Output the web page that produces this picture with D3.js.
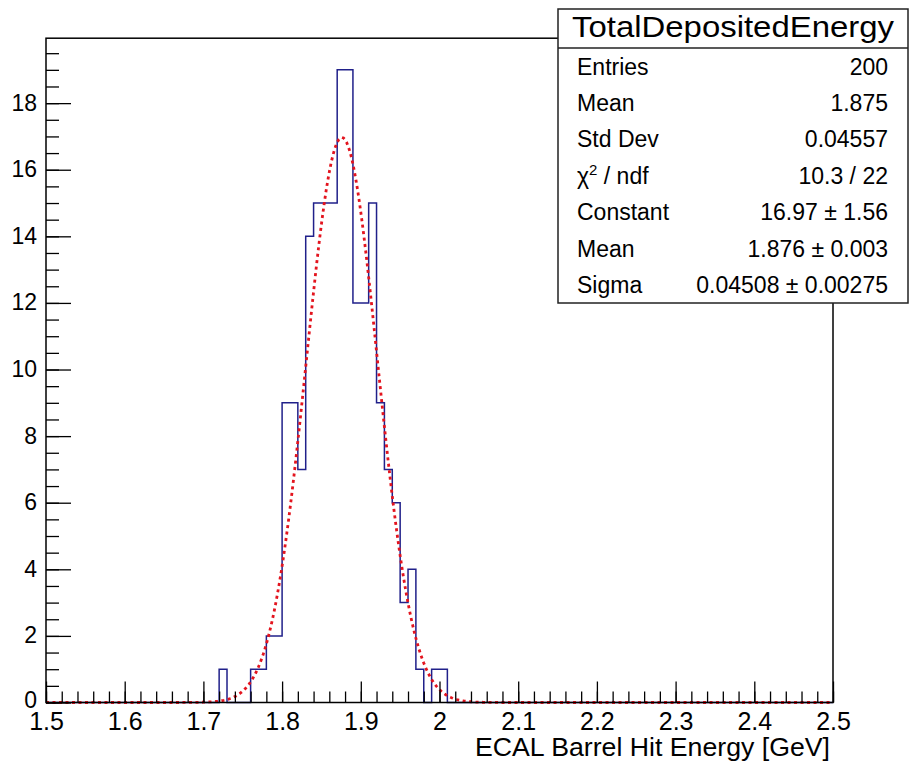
<!DOCTYPE html>
<html>
<head>
<meta charset="utf-8">
<script src="https://cdn.jsdelivr.net/npm/d3@7"></script>
<style>
  html, body { margin: 0; padding: 0; background: #fff; }
  svg { display: block; }
  text { font-family: "Liberation Sans", Arial, Helvetica, sans-serif; fill: #000; }
</style>
</head>
<body>
<svg id="chart" width="909" height="762"></svg>
<script>
// ---------------- data ----------------
// histogram: 100 bins of width 0.01 from 1.5 to 2.5; only non-empty region listed
const binWidth = 0.01;
const xRange = [1.5, 2.5];
const binStarts = [1.72, 1.73, 1.74, 1.75, 1.76, 1.77, 1.78, 1.79, 1.80, 1.81,
                   1.82, 1.83, 1.84, 1.85, 1.86, 1.87, 1.88, 1.89, 1.90, 1.91,
                   1.92, 1.93, 1.94, 1.95, 1.96, 1.97, 1.98, 1.99, 2.00];
const binCounts = [1, 0, 0, 0, 1, 1, 2, 2, 9, 9,
                   7, 14, 15, 15, 15, 19, 19, 12, 12, 15,
                   9, 7, 6, 3, 4, 1, 0, 1, 1];
// Gaussian fit parameters (from stats box)
const fitConstant = 16.97;
const fitMean = 1.876;
const fitSigma = 0.04508;
// axis ticks
const xMajorTicks = [1.5, 1.6, 1.7, 1.8, 1.9, 2.0, 2.1, 2.2, 2.3, 2.4, 2.5];
const yMajorTicks = [0, 2, 4, 6, 8, 10, 12, 14, 16, 18];
const yMax = 19.95;
// stats box
const statsTitle = "TotalDepositedEnergy";
const statLabels = ["Entries", "Mean", "Std Dev", "χ2 / ndf", "Constant", "Mean", "Sigma"];
const statValues = ["200", "1.875", "0.04557", "10.3 / 22", "16.97 ± 1.56", "1.876 ± 0.003", "0.04508 ± 0.00275"];
const xTitle = "ECAL Barrel Hit Energy [GeV]";

// ---------------- layout ----------------
const svg = d3.select("#chart");
const L = 46, R = 833, T = 38.2, B = 702.5;
const x = d3.scaleLinear().domain(xRange).range([L, R]);
const y = d3.scaleLinear().domain([0, yMax]).range([B, T]);

svg.append("rect").attr("width", 909).attr("height", 762).attr("fill", "#fff");

// full bin list
const nBins = Math.round((xRange[1] - xRange[0]) / binWidth);
const bins = d3.range(nBins).map(i => {
  const lo = +(xRange[0] + i * binWidth).toFixed(4);
  const k = binStarts.findIndex(s => Math.abs(s - lo) < 1e-6);
  return { lo, hi: lo + binWidth, c: k >= 0 ? binCounts[k] : 0 };
});

// histogram step outline
const pts = [[xRange[0], 0]];
bins.forEach(b => { pts.push([b.lo, b.c]); pts.push([b.hi, b.c]); });
pts.push([xRange[1], 0]);
svg.append("path")
  .attr("d", d3.line().x(d => x(d[0])).y(d => y(d[1]))(pts))
  .attr("fill", "none").attr("stroke", "#20208a").attr("stroke-width", 1.5);

// fit curve
const fitPts = d3.range(xRange[0], xRange[1] + 1e-9, 0.002)
  .map(v => [v, fitConstant * Math.exp(-0.5 * Math.pow((v - fitMean) / fitSigma, 2))]);
svg.append("path")
  .attr("d", d3.line().x(d => x(d[0])).y(d => y(d[1]))(fitPts))
  .attr("fill", "none").attr("stroke", "#e3141e").attr("stroke-width", 2.8)
  .attr("stroke-dasharray", "3,3.5");

// axes
const fmt = d => String(+d.toFixed(2));
const xMinor = d3.range(0, 51).map(i => +(xRange[0] + i * 0.02).toFixed(3));
const yMinor = d3.range(0, 40).map(i => i * 0.5).filter(v => v <= yMax);

const gx = svg.append("g").attr("transform", `translate(0,${B})`);
gx.call(d3.axisBottom(x).tickValues(xMinor).tickSize(-11).tickFormat(""));
gx.call(g => g.select(".domain").remove());
const gx2 = svg.append("g").attr("transform", `translate(0,${B})`);
gx2.call(d3.axisBottom(x).tickValues(xMajorTicks).tickSize(-21).tickPadding(10).tickFormat(fmt));
gx2.call(g => g.select(".domain").remove());
gx2.selectAll("text").attr("font-size", 25).attr("font-family", "Liberation Sans, Arial, sans-serif");

const gy = svg.append("g").attr("transform", `translate(${L},0)`);
gy.call(d3.axisLeft(y).tickValues(yMinor).tickSize(-13).tickFormat(""));
gy.call(g => g.select(".domain").remove());
const gy2 = svg.append("g").attr("transform", `translate(${L},0)`);
gy2.call(d3.axisLeft(y).tickValues(yMajorTicks).tickSize(-25).tickPadding(9).tickFormat(fmt));
gy2.call(g => g.select(".domain").remove());
gy2.selectAll("text").attr("font-size", 23).attr("font-family", "Liberation Sans, Arial, sans-serif")
  .attr("dy", "0.3em");
gy2.selectAll(".tick").filter(d => d === 0).select("text").attr("dy", "0.2em");

svg.selectAll(".tick line").attr("stroke", "#000").attr("stroke-width", 1.3);

// frame
svg.append("rect").attr("x", L).attr("y", T).attr("width", R - L).attr("height", B - T)
  .attr("fill", "none").attr("stroke", "#000").attr("stroke-width", 1.5);

// x title
svg.append("text").attr("x", 830).attr("y", 756).attr("text-anchor", "end")
  .attr("font-size", 25).attr("textLength", 355).attr("lengthAdjust", "spacingAndGlyphs")
  .text(xTitle);

// stats box
const bx = 558, by = 9, bw = 350, bh = 294, titleH = 39;
const sb = svg.append("g");
sb.append("rect").attr("x", bx).attr("y", by).attr("width", bw).attr("height", bh)
  .attr("fill", "#fff").attr("stroke", "#222").attr("stroke-width", 1.5);
sb.append("line").attr("x1", bx).attr("x2", bx + bw).attr("y1", by + titleH).attr("y2", by + titleH)
  .attr("stroke", "#222").attr("stroke-width", 1.5);
sb.append("text").attr("x", bx + bw / 2).attr("y", 37).attr("text-anchor", "middle")
  .attr("font-size", 30).attr("textLength", 322).attr("lengthAdjust", "spacingAndGlyphs")
  .text(statsTitle);
const rowH = (bh - titleH) / statLabels.length;
statLabels.forEach((lab, i) => {
  const cy = by + titleH + rowH * (i + 0.5);
  const t = sb.append("text").attr("x", bx + 19).attr("y", cy + 8.3).attr("font-size", 23);
  if (lab.startsWith("χ2")) {
    t.append("tspan").text("χ");
    t.append("tspan").attr("dy", -9).attr("font-size", 15).text("2");
    t.append("tspan").attr("dy", 9).text(" / ndf");
  } else {
    t.text(lab);
  }
  sb.append("text").attr("x", bx + bw - 20).attr("y", cy + 8.3).attr("text-anchor", "end")
    .attr("font-size", 23).text(statValues[i]);
});
</script>
</body>
</html>
